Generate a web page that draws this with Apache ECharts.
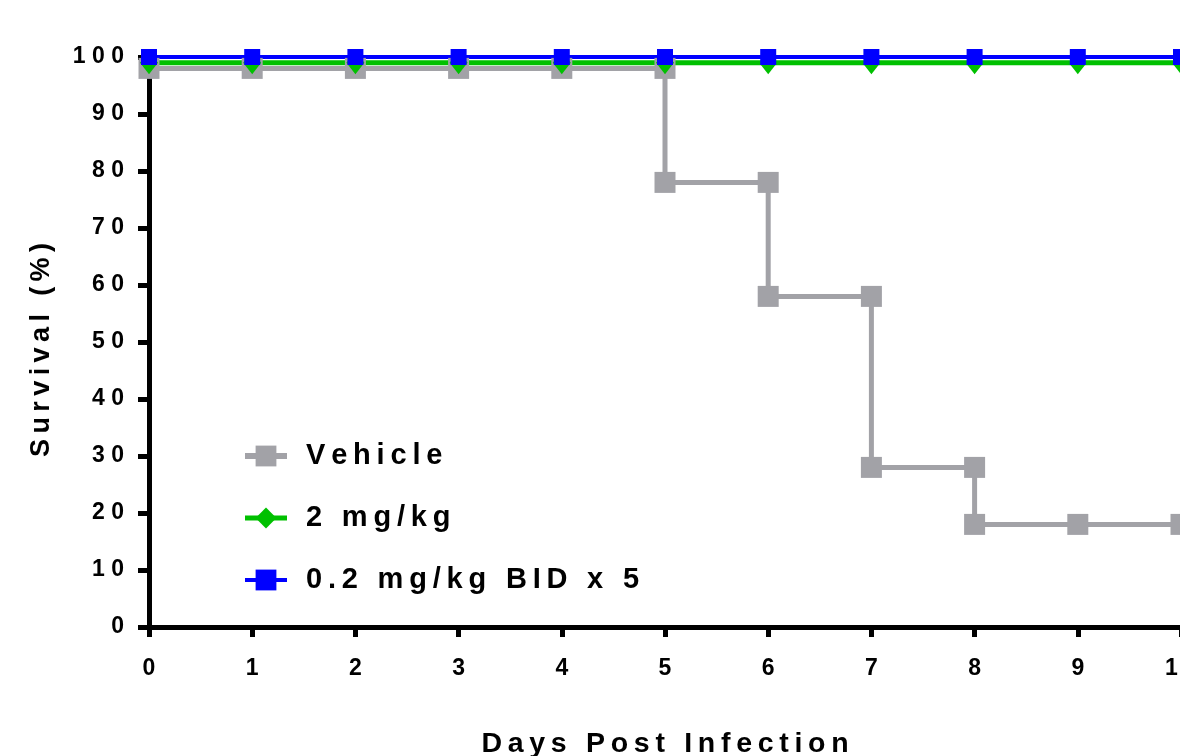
<!DOCTYPE html>
<html>
<head>
<meta charset="utf-8">
<script src="https://cdn.jsdelivr.net/npm/echarts@6/dist/echarts.min.js"></script>
<style>
html,body{margin:0;padding:0;background:#fff;overflow:hidden;}
#chart{width:1240px;height:756px;}
</style>
</head>
<body>
<div id="chart"></div>
<script>
// Data
const seriesNames = ['Vehicle', '2 mg/kg', '0.2 mg/kg BID x 5'];
const vehicleDays = [0, 1, 2, 3, 4, 5, 5, 6, 6, 7, 7, 8, 8, 9, 10];
const vehicleSurvival = [98, 98, 98, 98, 98, 98, 78, 78, 58, 58, 28, 28, 18, 18, 18];
const days = [0, 1, 2, 3, 4, 5, 6, 7, 8, 9, 10];
const dose2Survival = [99, 99, 99, 99, 99, 99, 99, 99, 99, 99, 99];
const dose02Survival = [100, 100, 100, 100, 100, 100, 100, 100, 100, 100, 100];
const xTicks = [0, 1, 2, 3, 4, 5, 6, 7, 8, 9, 10];
const yTicks = [0, 10, 20, 30, 40, 50, 60, 70, 80, 90, 100];
const xAxisTitle = 'Days Post Infection';
const yAxisTitle = 'Survival (%)';

const FONT = "'Liberation Sans', Arial, sans-serif";
const TS = '\u2009';
function tracked(s) {
  return String(s).split(' ').map(w => w.split('').join(TS)).join(TS + ' ' + TS);
}
function spacedDigits(s) {
  return String(s).split('').join(' ');
}
const pairs = (xs, ys) => xs.map((x, i) => [x, ys[i]]);

const chart = echarts.init(document.getElementById('chart'));
chart.setOption({
  animation: false,
  backgroundColor: '#ffffff',
  grid: { left: 149, right: 59, top: 57, bottom: 129, containLabel: false, outerBoundsMode: 'none' },
  legend: {
    orient: 'vertical',
    left: 242,
    top: 441,
    padding: 0,
    itemWidth: 42,
    itemHeight: 26,
    itemGap: 32,
    data: [
      { name: seriesNames[0], lineStyle: { width: 6 } },
      { name: seriesNames[1], lineStyle: { width: 5 } },
      { name: seriesNames[2], lineStyle: { width: 4 } }
    ],
    formatter: name => tracked(name),
    textStyle: {
      fontFamily: FONT, fontWeight: 'bold', fontSize: 29, color: '#000',
      lineHeight: 30, padding: [0, 0, 0, 14]
    }
  },
  xAxis: {
    type: 'value', min: 0, max: 10, interval: 1,
    name: tracked(xAxisTitle), nameLocation: 'middle', nameGap: 103,
    nameTextStyle: { fontFamily: FONT, fontWeight: 'bold', fontSize: 28.5, color: '#000', verticalAlign: 'top' },
    axisLine: { show: true, onZero: false, lineStyle: { color: '#000', width: 5 } },
    axisTick: { show: true, length: 10, lineStyle: { color: '#000', width: 5 } },
    axisLabel: {
      margin: 30, fontFamily: FONT, fontWeight: 'bold', fontSize: 23, color: '#000',
      formatter: v => xTicks.includes(v) ? spacedDigits(v) : ''
    },
    splitLine: { show: false }
  },
  yAxis: {
    type: 'value', min: 0, max: 100, interval: 10,
    name: tracked(yAxisTitle), nameLocation: 'middle', nameGap: 94, nameRotate: 90,
    nameTextStyle: { fontFamily: FONT, fontWeight: 'bold', fontSize: 27, color: '#000', padding: [0, 16, 0, 0] },
    axisLine: { show: true, onZero: false, lineStyle: { color: '#000', width: 5 } },
    axisTick: { show: true, length: 11, lineStyle: { color: '#000', width: 5 } },
    axisLabel: {
      margin: 25, fontFamily: FONT, fontWeight: 'bold', fontSize: 23, color: '#000',
      formatter: v => yTicks.includes(v) ? spacedDigits(v) : ''
    },
    splitLine: { show: false }
  },
  series: [
    {
      name: seriesNames[0], type: 'line', clip: false,
      data: pairs(vehicleDays, vehicleSurvival),
      symbol: 'rect', symbolSize: 21,
      lineStyle: { color: '#a2a2a7', width: 5 },
      itemStyle: { color: '#a2a2a7' }
    },
    {
      name: seriesNames[1], type: 'line', clip: false,
      data: pairs(days, dose2Survival),
      symbol: 'diamond', symbolSize: [18, 23],
      lineStyle: { color: '#00c000', width: 5 },
      itemStyle: { color: '#00c000' }
    },
    {
      name: seriesNames[2], type: 'line', clip: false,
      data: pairs(days, dose02Survival),
      symbol: 'rect', symbolSize: 16,
      lineStyle: { color: '#0000ff', width: 4 },
      itemStyle: { color: '#0000ff' }
    }
  ]
});
</script>
</body>
</html>
